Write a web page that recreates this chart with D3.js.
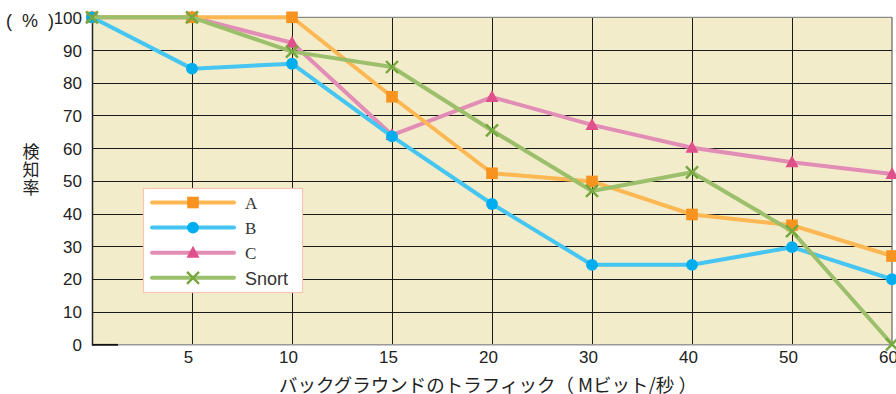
<!DOCTYPE html>
<html><head><meta charset="utf-8">
<script src="https://cdn.jsdelivr.net/npm/d3@7/dist/d3.min.js"></script>
<style>body{margin:0;background:#fff}svg{display:block}</style>
</head><body>
<svg id="c" width="896" height="394"></svg>
<script>
const categories = ["", "5", "10", "15", "20", "30", "40", "50", "60"];
const seriesA = [100, 100, 100, 75.7, 52.3, 49.8, 39.7, 36.4, 27];
const seriesB = [100, 84.3, 85.8, 63.6, 42.9, 24.3, 24.3, 29.7, 19.9];
const seriesC = [100, 100, 92.2, 64, 75.6, 67.1, 60.1, 55.7, 52.1];
const seriesSnort = [100, 100, 89.5, 84.8, 65.4, 46.9, 52.6, 34.6, 0];
const yTicks = [0, 10, 20, 30, 40, 50, 60, 70, 80, 90, 100];
const seriesNames = ["A", "B", "C", "Snort"];

const svg = d3.select("#c");
const L = 92, R = 892, T = 17.3, B = 344.3;
const x = d3.scalePoint().domain(categories).range([L, R]);
const y = d3.scaleLinear().domain([0, 100]).range([B, T]);

// background
svg.append("rect").attr("x", L).attr("y", T).attr("width", R - L).attr("height", B - T).attr("fill", "#F2ECCA");

// grid
const g = svg.append("g");
g.selectAll(".hg").data(yTicks.filter(d => d > 0 && d < 100)).join("line")
  .attr("x1", L).attr("x2", R).attr("y1", d => Math.round(y(d)) + 0.5).attr("y2", d => Math.round(y(d)) + 0.5)
  .attr("stroke", "#1a1a1a").attr("stroke-width", 1);
g.selectAll(".vg").data(categories.slice(1, -1)).join("line")
  .attr("y1", T).attr("y2", B).attr("x1", d => Math.round(x(d)) + 0.5).attr("x2", d => Math.round(x(d)) + 0.5)
  .attr("stroke", "#1a1a1a").attr("stroke-width", 1);
// top & right border (grey)
g.append("line").attr("x1", L).attr("x2", R).attr("y1", y(100)).attr("y2", y(100)).attr("stroke", "#8a8a8a").attr("stroke-width", 1.2);
g.append("line").attr("x1", x("60")).attr("x2", x("60")).attr("y1", T).attr("y2", B).attr("stroke", "#666").attr("stroke-width", 1.2);
// bottom axis
g.append("line").attr("x1", L).attr("x2", R).attr("y1", B + 0.5).attr("y2", B + 0.5).attr("stroke", "#999").attr("stroke-width", 1.5);
g.append("line").attr("x1", L).attr("x2", 118).attr("y1", B + 0.5).attr("y2", B + 0.5).attr("stroke", "#111").attr("stroke-width", 1.8);
g.append("line").attr("x1", L + 0.5).attr("x2", L + 0.5).attr("y1", T).attr("y2", B + 1.3).attr("stroke", "#222").attr("stroke-width", 1.5);

// y axis labels
const fontSans = "'Liberation Sans', Arial, sans-serif";
svg.append("g").selectAll("text").data(yTicks).join("text")
  .attr("x", 82).attr("y", d => y(d) + 1).attr("text-anchor", "end").attr("dominant-baseline", "central")
  .attr("font-family", fontSans).attr("font-size", 17).attr("fill", "#222").text(d => d);
// x axis labels
svg.append("g").selectAll("text").data(categories.filter(d => d !== "")).join("text")
  .attr("x", d => x(d) - 3.5).attr("y", 357).attr("text-anchor", "middle").attr("dominant-baseline", "central")
  .attr("font-family", fontSans).attr("font-size", 17).attr("fill", "#222").text(d => d);

const fontJP = "'Noto Sans CJK JP', sans-serif";
svg.append("text").attr("x", 488).attr("y", 384).attr("text-anchor", "middle").attr("dominant-baseline", "central")
  .attr("font-family", fontJP).attr("font-size", 18.5).attr("fill", "#222").text("バックグラウンドのトラフィック（ Mビット/秒 ）");
// (%) unit label
svg.append("text").attr("x", 30).attr("y", 21).attr("text-anchor", "middle").attr("dominant-baseline", "central")
  .attr("font-family", fontSans).attr("font-size", 18).attr("fill", "#222")
  .attr("xml:space", "preserve").style("white-space", "pre").text("(  %  )");
// vertical axis title
svg.append("text").attr("x", 31).attr("y", 170).attr("text-anchor", "middle")
  .style("writing-mode", "vertical-rl").attr("font-family", fontJP).attr("font-size", 17)
  .attr("letter-spacing", 1).attr("fill", "#222").text("検知率");

// series
const styles = {
  A: {line: "#FDB853", mark: "#F7931E", shape: "square"},
  B: {line: "#45C5F2", mark: "#00AEEF", shape: "circle"},
  C: {line: "#E28DB6", mark: "#E0508A", shape: "triangle"},
  Snort: {line: "#9CBF6B", mark: "#76A83F", shape: "x"}
};
const dataMap = {A: seriesA, B: seriesB, C: seriesC, Snort: seriesSnort};

function marker(sel, shape, cx, cy, col) {
  if (shape === "square") sel.append("rect").attr("x", cx - 5.8).attr("y", cy - 5.8).attr("width", 11.6).attr("height", 11.6).attr("fill", col);
  else if (shape === "circle") sel.append("circle").attr("cx", cx).attr("cy", cy).attr("r", 5.9).attr("fill", col);
  else if (shape === "triangle") sel.append("path").attr("d", `M${cx},${cy - 7}L${cx + 6.5},${cy + 5}L${cx - 6.5},${cy + 5}Z`).attr("fill", col);
  else sel.append("path").attr("d", `M${cx - 6},${cy - 6}L${cx + 6},${cy + 6}M${cx + 6},${cy - 6}L${cx - 6},${cy + 6}`).attr("stroke", col).attr("stroke-width", 2.4).attr("fill", "none");
}

const line = d3.line().x((d, i) => x(categories[i])).y(d => y(d));
["C", "A", "B", "Snort"].forEach(name => {
  const s = styles[name];
  const gg = svg.append("g");
  gg.append("path").datum(dataMap[name]).attr("d", line).attr("fill", "none")
    .attr("stroke", s.line).attr("stroke-width", 4).attr("stroke-linejoin", "round");
  dataMap[name].forEach((v, i) => marker(gg, s.shape, x(categories[i]), y(v), s.mark));
});

// legend
const lg = svg.append("g");
lg.append("rect").attr("x", 143.5).attr("y", 188.5).attr("width", 159).attr("height", 104)
  .attr("fill", "#fff").attr("stroke", "#F7C6B2").attr("stroke-width", 1.2);
seriesNames.forEach((name, i) => {
  const s = styles[name];
  const cy = 202.5 + i * 25.1;
  lg.append("line").attr("x1", 152).attr("x2", 234).attr("y1", cy).attr("y2", cy)
    .attr("stroke", s.line).attr("stroke-width", 4).attr("stroke-linecap", "round");
  marker(lg, s.shape, 193, cy, s.mark);
  lg.append("text").attr("x", 245).attr("y", cy + 1).attr("dominant-baseline", "central")
    .attr("font-family", name === "Snort" ? fontSans : "'Liberation Serif', 'Times New Roman', serif")
    .attr("font-size", name === "Snort" ? 18 : 17).attr("fill", "#333").text(name);
});
</script>
</body></html>
